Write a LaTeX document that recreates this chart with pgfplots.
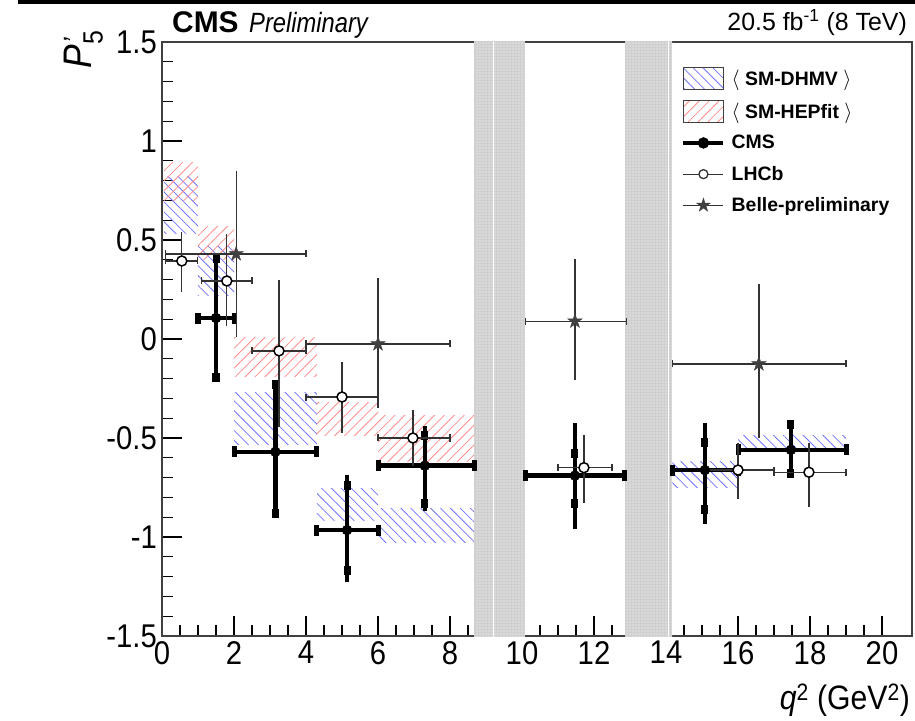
\documentclass[border=0pt]{standalone}
\usepackage{graphicx}
\usepackage{pgfplots}
\pgfplotsset{compat=1.18}
\usepackage{pgfplotstable}
\usepackage{fontspec}
\setmainfont{Liberation Sans}
\newfontfamily\tickfont{Liberation Sans}[FakeStretch=0.89]
\usetikzlibrary{patterns.meta}

\pgfdeclareplotmark{fstar}{%
\pgfpathmoveto{\pgfqpoint{0pt}{\pgfplotmarksize}}%
\pgfpathlineto{\pgfqpoint{-0.2245\pgfplotmarksize}{0.309\pgfplotmarksize}}%
\pgfpathlineto{\pgfqpoint{-0.951\pgfplotmarksize}{0.309\pgfplotmarksize}}%
\pgfpathlineto{\pgfqpoint{-0.363\pgfplotmarksize}{-0.118\pgfplotmarksize}}%
\pgfpathlineto{\pgfqpoint{-0.588\pgfplotmarksize}{-0.809\pgfplotmarksize}}%
\pgfpathlineto{\pgfqpoint{0pt}{-0.382\pgfplotmarksize}}%
\pgfpathlineto{\pgfqpoint{0.588\pgfplotmarksize}{-0.809\pgfplotmarksize}}%
\pgfpathlineto{\pgfqpoint{0.363\pgfplotmarksize}{-0.118\pgfplotmarksize}}%
\pgfpathlineto{\pgfqpoint{0.951\pgfplotmarksize}{0.309\pgfplotmarksize}}%
\pgfpathlineto{\pgfqpoint{0.2245\pgfplotmarksize}{0.309\pgfplotmarksize}}%
\pgfpathclose
\pgfusepathqfillstroke}

% CMS: total and statistical errors
\pgfplotstableread{
x y exm exp eym eyp sym syp
1.5 0.106 0.5 0.5 0.316 0.324 0.30 0.30
3.15 -0.57 1.15 1.15 0.32 0.353 0.31 0.34
5.14 -0.965 0.84 0.86 0.262 0.278 0.205 0.223
7.3 -0.64 1.3 1.38 0.23 0.20 0.19 0.155
11.47 -0.69 1.38 1.39 0.27 0.266 0.14 0.114
15.08 -0.662 0.9 0.92 0.272 0.238 0.198 0.137
17.47 -0.56 1.47 1.53 0.137 0.136 0.117 0.126
}\cms
\pgfplotstableread{
x y exm exp eym eyp
0.55 0.394 0.45 0.43 0.137 0.131
1.8 0.293 0.7 0.7 0.21 0.222
3.25 -0.06 0.75 0.75 0.365 0.34
5.0 -0.293 1.0 1.0 0.162 0.157
6.97 -0.50 0.97 1.03 0.123 0.124
11.72 -0.65 0.72 0.78 0.16 0.145
16.0 -0.662 1.0 1.0 0.128 0.117
17.97 -0.673 0.97 1.03 0.157 0.128
}\lhcb
\pgfplotstableread{
x y exm exp eym eyp
2.06 0.43 1.96 1.94 0.40 0.40
6.0 -0.025 2.0 2.0 0.305 0.315
11.47 0.09 1.38 1.43 0.28 0.295
16.58 -0.126 2.4 2.42 0.354 0.386
}\belle

\tikzset{
  dhmv/.style={draw=none, pattern={Lines[angle=-45,distance=7bp,line width=0.8bp]}, pattern color=blue!55},
  hepfit/.style={draw=none, pattern={Lines[angle=45,distance=7bp,line width=0.8bp]}, pattern color=red!45},
}

\begin{document}
\begin{tikzpicture}
\path[use as bounding box] (-162bp,-85bp) rectangle (753bp,636bp);
\begin{axis}[
  at={(0,0)}, anchor=south west, scale only axis,
  width=750bp, height=594bp,
  xmin=0, xmax=20.833, ymin=-1.5, ymax=1.5,
  clip=false,
  xtick={0,2,...,20}, xticklabels={0,2,4,6,8,10,12,14,16,18,20},
  ytick={-1.5,-1,-0.5,0,0.5,1,1.5}, yticklabels={-1.5,-1,-0.5,0,0.5,1,1.5},
  minor x tick num=3, minor y tick num=4,
  tick align=inside, tick pos=left,
  major tick length=20bp, minor tick length=11bp,
  tick style={black, line width=1.2bp},
  axis line style={black!75, line width=1.5bp},
  tick label style={font=\tickfont\fontsize{33}{33}\selectfont},
  yticklabel style={inner sep=5bp},
  xticklabel style={inner sep=5bp},
  legend cell align=left,
  legend style={draw=none, fill=none, at={(0.692,0.958)}, anchor=north west,
    inner sep=0pt, row sep=9.2bp, column sep=5bp,
    font=\bfseries\fontsize{19.5}{19.5}\selectfont,
    nodes={inner sep=1bp}},
]
% SM-DHMV
\addplot[dhmv, legend image code/.code={\draw[pattern={Lines[angle=-45,distance=7bp,line width=0.8bp]}, pattern color=blue!55, draw=black!75, line width=1.2bp] (0bp,-11bp) rectangle (40bp,11bp);}]
  coordinates {(0.05,0.535) (1,0.535) (1,0.82) (0.05,0.82)} -- cycle;
\addlegendentry{$\langle$ SM-DHMV $\rangle$}
\addplot[dhmv, forget plot] coordinates {(1,0.22) (2,0.22) (2,0.465) (1,0.465)} -- cycle;
\addplot[dhmv, forget plot] coordinates {(2,-0.535) (4.3,-0.535) (4.3,-0.27) (2,-0.27)} -- cycle;
\addplot[dhmv, forget plot] coordinates {(4.3,-0.915) (6,-0.915) (6,-0.755) (4.3,-0.755)} -- cycle;
\addplot[dhmv, forget plot] coordinates {(6,-1.03) (8.68,-1.03) (8.68,-0.855) (6,-0.855)} -- cycle;
\addplot[dhmv, forget plot] coordinates {(14.18,-0.75) (16,-0.75) (16,-0.62) (14.18,-0.62)} -- cycle;
\addplot[dhmv, forget plot] coordinates {(16,-0.56) (19,-0.56) (19,-0.485) (16,-0.485)} -- cycle;
% SM-HEPfit
\addplot[hepfit, legend image code/.code={\draw[pattern={Lines[angle=45,distance=7bp,line width=0.8bp]}, pattern color=red!45, draw=black!75, line width=1.2bp] (0bp,-11bp) rectangle (40bp,11bp);}]
  coordinates {(0.05,0.70) (1,0.70) (1,0.89) (0.05,0.89)} -- cycle;
\addlegendentry{$\langle$ SM-HEPfit $\rangle$}
\addplot[hepfit, forget plot] coordinates {(1,0.40) (2,0.40) (2,0.57) (1,0.57)} -- cycle;
\addplot[hepfit, forget plot] coordinates {(2,-0.19) (4.3,-0.19) (4.3,0.01) (2,0.01)} -- cycle;
\addplot[hepfit, forget plot] coordinates {(4.3,-0.485) (6,-0.485) (6,-0.32) (4.3,-0.32)} -- cycle;
\addplot[hepfit, forget plot] coordinates {(6,-0.62) (8.68,-0.62) (8.68,-0.385) (6,-0.385)} -- cycle;
% vetoed resonance regions
\addplot[fill=black!19, draw=none, forget plot] coordinates {(8.68,-1.505) (10.09,-1.505) (10.09,1.505) (8.68,1.505)} -- cycle;
\addplot[fill=black!19, draw=none, forget plot] coordinates {(12.86,-1.505) (14.18,-1.505) (14.18,1.505) (12.86,1.505)} -- cycle;
\addplot[draw=none, pattern={Dots[distance=3bp, radius=0.6bp]}, pattern color=white, forget plot] coordinates {(8.68,-1.505) (10.09,-1.505) (10.09,1.505) (8.68,1.505)} -- cycle;
\addplot[draw=none, pattern={Dots[distance=3bp, radius=0.6bp]}, pattern color=white, forget plot] coordinates {(12.86,-1.505) (14.18,-1.505) (14.18,1.505) (12.86,1.505)} -- cycle;
\addplot[white, line width=1bp, forget plot] coordinates {(9.22,-1.505) (9.22,1.505)};
\addplot[white, line width=1bp, forget plot] coordinates {(14.08,-1.505) (14.08,1.505)};
% CMS total y errors
\addplot[only marks, mark=none, black, forget plot,
  error bars/.cd, y dir=both, y explicit, error mark=none,
  error bar style={line width=4.5bp, black}]
  table[x=x, y=y, y error plus=eyp, y error minus=eym] {\cms};
% CMS stat y errors
\addplot[only marks, mark=none, black, forget plot,
  error bars/.cd, y dir=both, y explicit, error mark=-,
  error bar style={line width=4.5bp, black},
  error mark options={line width=7bp, mark size=4.5bp, black}]
  table[x=x, y=y, y error plus=syp, y error minus=sym] {\cms};
% CMS x errors and markers
\addplot[only marks, mark=*, mark size=5bp, black,
  legend image code/.code={\path[draw=none,fill=none] (0bp,-11bp) rectangle (40bp,11bp); \draw[line width=4.5bp] (0bp,0bp)--(40bp,0bp); \fill (20bp,0bp) circle (5.5bp);},
  error bars/.cd, x dir=both, x explicit, error mark=|,
  error bar style={line width=4.5bp, black},
  error mark options={line width=5bp, mark size=5.5bp, black}]
  table[x=x, y=y, x error plus=exp, x error minus=exm] {\cms};
\addlegendentry{CMS}
% LHCb
\addplot[only marks, mark=none, black!80, forget plot,
  error bars/.cd, y dir=both, y explicit, error mark=-,
  error bar style={line width=1.3bp, black!80},
  error mark options={line width=1.3bp, mark size=3.5bp, black!80}]
  table[x=x, y=y, y error plus=eyp, y error minus=eym] {\lhcb};
\addplot[only marks, mark=*, mark size=5bp, black!80,
  mark options={fill=white, draw=black, line width=1.5bp},
  legend image code/.code={\path[draw=none,fill=none] (0bp,-11bp) rectangle (40bp,11bp); \draw[line width=1.3bp, black!80] (0bp,0bp)--(40bp,0bp); \draw[fill=white, line width=1.3bp] (20bp,0bp) circle (4.5bp);},
  error bars/.cd, x dir=both, x explicit, error mark=|,
  error bar style={line width=1.3bp, black!80},
  error mark options={line width=1.3bp, mark size=3.5bp, black!80}]
  table[x=x, y=y, x error plus=exp, x error minus=exm] {\lhcb};
\addlegendentry{LHCb}
% Belle
\addplot[only marks, mark=none, black!80, forget plot,
  error bars/.cd, y dir=both, y explicit, error mark=-,
  error bar style={line width=1.3bp, black!80},
  error mark options={line width=1.3bp, mark size=3.5bp, black!80}]
  table[x=x, y=y, y error plus=eyp, y error minus=eym] {\belle};
\addplot[only marks, mark=fstar, mark size=7.5bp, black!75,
  mark options={fill=black!75, draw=black!75, line width=0.5bp},
  legend image code/.code={\path[draw=none,fill=none] (0bp,-11bp) rectangle (40bp,11bp); \draw[line width=1.3bp, black!80] (0bp,0bp)--(40bp,0bp); \draw[black!75, fill=black!75] plot[mark=fstar, mark size=7bp] coordinates {(20bp,0bp)};},
  error bars/.cd, x dir=both, x explicit, error mark=|,
  error bar style={line width=1.3bp, black!80},
  error mark options={line width=1.3bp, mark size=3.5bp, black!80}]
  table[x=x, y=y, x error plus=exp, x error minus=exm] {\belle};
\addlegendentry{Belle-preliminary}
\end{axis}
% header, axis titles
\draw[black, line width=4bp] (-144bp,634bp) -- (753bp,634bp);
\node[anchor=base west, inner sep=0pt, font=\bfseries\fontsize{30}{30}\selectfont] at (10bp,603bp) {CMS};
\node[anchor=base west, inner sep=0pt] at (87bp,603bp) {\scalebox{0.85}[1]{\itshape\fontsize{28}{28}\selectfont Preliminary}};
\node[anchor=base east, inner sep=0pt, font=\fontsize{25}{25}\selectfont] at (745bp,605bp) {20.5 fb\textsuperscript{-1} (8 TeV)};
\node[anchor=base east, inner sep=0pt, font=\tickfont\fontsize{34}{34}\selectfont] at (748bp,-73bp) {\textit{q}\textsuperscript{2} (GeV\textsuperscript{2})};
\node[anchor=base east, inner sep=0pt, rotate=90, font=\tickfont\fontsize{40}{40}\selectfont] at (-70bp,606bp) {\textit{P}\rlap{\textsuperscript{\kern1bp\textit{’}}}\textsubscript{5}};
\end{tikzpicture}
\end{document}
